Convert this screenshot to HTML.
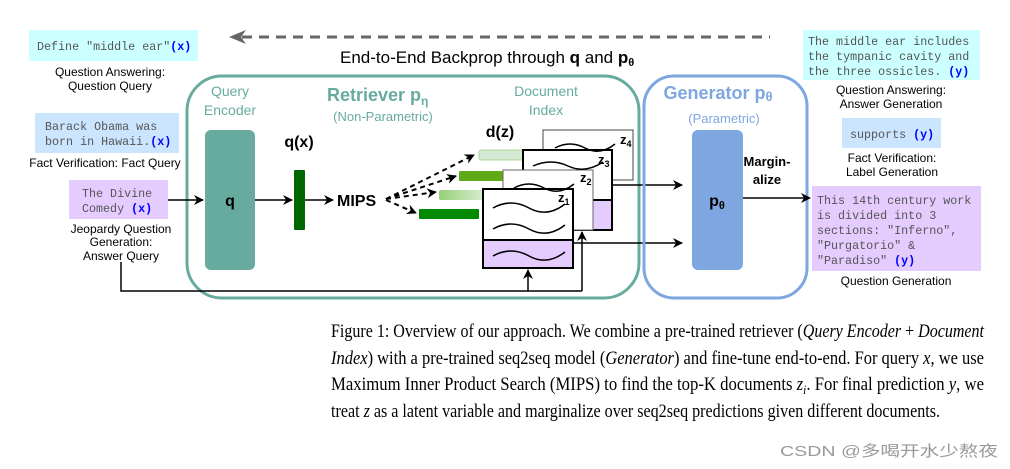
<!DOCTYPE html>
<html><head><meta charset="utf-8"><style>
html,body{margin:0;padding:0;background:#fff;width:1010px;height:469px;overflow:hidden}
svg text{font-family:"Liberation Sans",sans-serif}
.m{font-family:"Liberation Mono",monospace;font-size:11.7px;fill:#555}
.y{font-family:"Liberation Mono",monospace;font-size:11.7px;fill:#0000ff;font-weight:bold}
.l{font-size:12px;fill:#000}
.cap{font-family:"Liberation Serif",serif;font-size:19px;fill:#000}
</style></head><body>
<svg width="1010" height="469" viewBox="0 0 1010 469" xmlns="http://www.w3.org/2000/svg">
<defs>
<marker id="a" markerWidth="10" markerHeight="10" refX="9" refY="5" orient="auto" markerUnits="userSpaceOnUse"><path d="M0,0 L10,5 L0,10 L3,5z" fill="#000"/></marker>
<linearGradient id="g1" x1="0" x2="1"><stop offset="0" stop-color="#97d077"/><stop offset="1" stop-color="#e0f0da"/></linearGradient>
</defs>
<line x1="242" y1="37" x2="770" y2="37" stroke="#666" stroke-width="3" stroke-dasharray="10,7"/>
<path d="M229,37 L246,30 L241,37 L246,44z" fill="#666"/>
<text x="340" y="63" font-size="17">End-to-End Backprop through <tspan font-weight="bold">q</tspan> and <tspan font-weight="bold">p<tspan font-size="11" dy="3">θ</tspan></tspan></text>
<rect x="29" y="30" width="169" height="31" fill="#ccffff"/>
<text x="37" y="50" class="m">Define "middle ear"<tspan class="y">(x)</tspan></text>
<text x="110" y="76" class="l" text-anchor="middle">Question Answering:</text>
<text x="110" y="90" class="l" text-anchor="middle">Question Query</text>
<rect x="35" y="113" width="144" height="40" fill="#cce5ff"/>
<text x="45" y="130" class="m">Barack Obama was</text>
<text x="45" y="145" class="m">born in Hawaii.<tspan class="y">(x)</tspan></text>
<text x="105" y="167" class="l" text-anchor="middle">Fact Verification: Fact Query</text>
<rect x="69" y="180" width="99" height="39" fill="#e5ccff"/>
<text x="82" y="197" class="m">The Divine</text>
<text x="82" y="212" class="m">Comedy <tspan class="y">(x)</tspan></text>
<text x="121" y="233" class="l" text-anchor="middle">Jeopardy Question</text>
<text x="121" y="246" class="l" text-anchor="middle">Generation:</text>
<text x="121" y="260" class="l" text-anchor="middle">Answer Query</text>
<rect x="187" y="76" width="452" height="222" rx="35" fill="none" stroke="#67ab9f" stroke-width="3"/>
<text x="230" y="96" font-size="14" fill="#67ab9f" text-anchor="middle">Query</text>
<text x="230" y="115" font-size="14" fill="#67ab9f" text-anchor="middle">Encoder</text>
<text x="327" y="101" font-size="18" font-weight="bold" fill="#67ab9f">Retriever p<tspan font-size="12" dy="4">η</tspan></text>
<text x="383" y="121" font-size="13" fill="#67ab9f" text-anchor="middle">(Non-Parametric)</text>
<text x="546" y="96" font-size="14" fill="#67ab9f" text-anchor="middle">Document</text>
<text x="546" y="115" font-size="14" fill="#67ab9f" text-anchor="middle">Index</text>
<rect x="205" y="130" width="50" height="140" rx="6" fill="#67ab9f"/>
<text x="230" y="206" font-size="16" font-weight="bold" text-anchor="middle">q</text>
<line x1="168" y1="200" x2="203" y2="200" stroke="#000" stroke-width="1.5" marker-end="url(#a)"/>
<line x1="255" y1="200" x2="292" y2="200" stroke="#000" stroke-width="1.5" marker-end="url(#a)"/>
<text x="299" y="147" font-size="16" font-weight="bold" text-anchor="middle">q(x)</text>
<rect x="294" y="170" width="11" height="60" rx="1" fill="#006600"/>
<line x1="305" y1="200" x2="333" y2="200" stroke="#000" stroke-width="1.5" marker-end="url(#a)"/>
<text x="337" y="206" font-size="16" font-weight="bold">MIPS</text>
<g stroke="#000" stroke-width="2" stroke-dasharray="5,4" fill="none">
<line x1="386" y1="199" x2="474" y2="155" marker-end="url(#a)"/>
<line x1="386" y1="199" x2="456" y2="176" marker-end="url(#a)"/>
<line x1="386" y1="199" x2="436" y2="192" marker-end="url(#a)"/>
<line x1="386" y1="200" x2="416" y2="213" marker-end="url(#a)"/>
</g>
<text x="500" y="137" font-size="16" font-weight="bold" text-anchor="middle">d(z)</text>
<rect x="479" y="150" width="50" height="10" rx="2" fill="#d5e8d4" stroke="#97d077" stroke-width="0.7"/>
<rect x="459" y="171" width="50" height="10" rx="1" fill="#60a917"/>
<rect x="439" y="190" width="50" height="10" rx="2" fill="url(#g1)"/>
<rect x="419" y="209" width="60" height="10" rx="1" fill="#008a00"/>
<g stroke="#000" fill="#fff">
<rect x="543" y="130" width="90" height="50" stroke="#444" stroke-width="1"/>
<rect x="523" y="150" width="89" height="80" stroke-width="2"/>
<rect x="523" y="200" width="89" height="30" fill="#e5ccff" stroke-width="2"/>
<rect x="503" y="170" width="90" height="60" stroke="#666" stroke-width="1"/>
<rect x="483" y="189" width="90" height="79" stroke-width="2"/>
<rect x="483" y="240" width="90" height="28" fill="#e5ccff" stroke-width="2"/>
</g>
<g fill="none" stroke="#000" stroke-width="1.5">
<path d="M555,148 q15,-8 30,0 t30,-4"/>
<path d="M533,166 q18,-8 35,0 t35,-4"/>
<path d="M514,188 q15,-8 30,0 t30,-4"/>
<path d="M493,208 q18,-10 36,0 t36,-4"/>
<path d="M493,229 q18,-10 36,0 t36,-4"/>
<path d="M493,256 q18,-10 36,0 t36,-4"/>
</g>
<text x="620" y="144" font-size="13" font-weight="bold">z<tspan font-size="9" dy="3">4</tspan></text>
<text x="598" y="164" font-size="13" font-weight="bold">z<tspan font-size="9" dy="3">3</tspan></text>
<text x="580" y="182" font-size="13" font-weight="bold">z<tspan font-size="9" dy="3">2</tspan></text>
<text x="558" y="202" font-size="13" font-weight="bold">z<tspan font-size="9" dy="3">1</tspan></text>
<line x1="612" y1="185" x2="682" y2="185" stroke="#000" stroke-width="1.5" marker-end="url(#a)"/>
<line x1="573" y1="243" x2="682" y2="243" stroke="#000" stroke-width="1.5" marker-end="url(#a)"/>
<polyline points="121,262 121,291 582,291" fill="none" stroke="#000" stroke-width="1.5"/>
<line x1="528" y1="291" x2="528" y2="270" stroke="#000" stroke-width="1.5" marker-end="url(#a)"/>
<line x1="582" y1="291" x2="582" y2="232" stroke="#000" stroke-width="1.5" marker-end="url(#a)"/>
<rect x="644" y="76" width="163" height="222" rx="30" fill="none" stroke="#7ea6e0" stroke-width="3"/>
<text x="718" y="99" font-size="18" font-weight="bold" fill="#7ea6e0" text-anchor="middle">Generator p<tspan font-size="13" dy="2">θ</tspan></text>
<text x="724" y="123" font-size="13" fill="#7ea6e0" text-anchor="middle">(Parametric)</text>
<rect x="692" y="130" width="51" height="140" rx="6" fill="#7ea6e0"/>
<text x="717" y="206" font-size="16" font-weight="bold" text-anchor="middle">p<tspan font-size="11" dy="3">θ</tspan></text>
<text x="767" y="166" font-size="13" font-weight="bold" text-anchor="middle">Margin-</text>
<text x="767" y="184" font-size="13" font-weight="bold" text-anchor="middle">alize</text>
<line x1="743" y1="198" x2="810" y2="198" stroke="#000" stroke-width="1.5" marker-end="url(#a)"/>
<rect x="803" y="30" width="177" height="50" fill="#ccffff"/>
<text x="808" y="45" class="m">The middle ear includes</text>
<text x="808" y="60" class="m">the tympanic cavity and</text>
<text x="808" y="75" class="m">the three ossicles.  <tspan class="y">(y)</tspan></text>
<text x="891" y="94" class="l" text-anchor="middle">Question Answering:</text>
<text x="891" y="108" class="l" text-anchor="middle">Answer Generation</text>
<rect x="842" y="118" width="99" height="30" fill="#cce5ff"/>
<text x="850" y="138" class="m">supports <tspan class="y">(y)</tspan></text>
<text x="892" y="162" class="l" text-anchor="middle">Fact Verification:</text>
<text x="892" y="176" class="l" text-anchor="middle">Label Generation</text>
<rect x="812" y="186" width="169" height="85" fill="#e5ccff"/>
<text x="817" y="204" class="m">This 14th century work</text>
<text x="817" y="219" class="m">is divided into 3</text>
<text x="817" y="234" class="m">sections: "Inferno",</text>
<text x="817" y="249" class="m">"Purgatorio" &amp;</text>
<text x="817" y="264" class="m">"Paradiso"      <tspan class="y">(y)</tspan></text>
<text x="896" y="285" class="l" text-anchor="middle">Question Generation</text>
<text x="331" y="337" class="cap" textLength="653" lengthAdjust="spacingAndGlyphs">Figure 1: Overview of our approach. We combine a pre-trained retriever (<tspan font-style="italic">Query Encoder</tspan> + <tspan font-style="italic">Document</tspan></text>
<text x="331" y="364" class="cap" textLength="653" lengthAdjust="spacingAndGlyphs"><tspan font-style="italic">Index</tspan>) with a pre-trained seq2seq model (<tspan font-style="italic">Generator</tspan>) and fine-tune end-to-end. For query <tspan font-style="italic">x</tspan>, we use</text>
<text x="331" y="390" class="cap" textLength="653" lengthAdjust="spacingAndGlyphs">Maximum Inner Product Search (MIPS) to find the top-K documents <tspan font-style="italic">z</tspan><tspan font-size="13" dy="4" font-style="italic">i</tspan><tspan dy="-4">. For final prediction </tspan><tspan font-style="italic">y</tspan>, we</text>
<text x="331" y="417" class="cap" textLength="609" lengthAdjust="spacingAndGlyphs">treat <tspan font-style="italic">z</tspan> as a latent variable and marginalize over seq2seq predictions given different documents.</text>
<text x="780" y="456" font-size="15" fill="#999" textLength="218" lengthAdjust="spacingAndGlyphs" font-family="Liberation Sans, Noto Sans CJK SC, sans-serif">CSDN @多喝开水少熬夜</text>
</svg>
</body></html>
